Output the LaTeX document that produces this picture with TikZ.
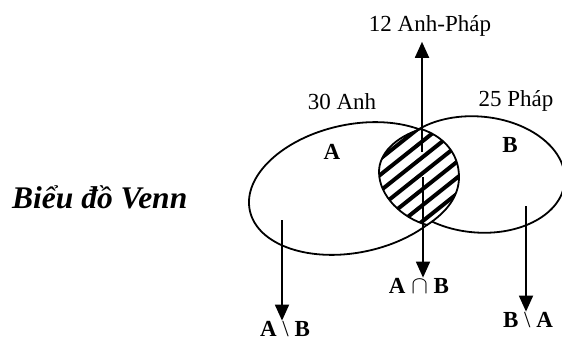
\documentclass[tikz,border=0pt]{standalone}
\usepackage{fontspec}
\setmainfont{Liberation Serif}
\usetikzlibrary{arrows.meta}
\begin{document}
\begin{tikzpicture}[x=1pt,y=-1pt,
  ell/.style={line width=1.8pt},
  arr/.style={line width=1.8pt,-{Triangle[width=14pt,length=16pt]}},
  hatch/.style={line width=4pt},
  lbl/.style={font=\fontsize{23}{26}\selectfont, inner sep=0pt},
  setlbl/.style={font=\fontsize{23}{26}\selectfont\bfseries, inner sep=0pt},
  ttl/.style={font=\fontsize{31.5}{36}\selectfont\bfseries\itshape, inner sep=0pt}]
\useasboundingbox (0,0) rectangle (562,342);

% title
\node[ttl, anchor=base west] (bi) at (12,208) {Biểu đồ Venn};

% ellipses
\draw[ell, rotate around={12:(353.5,188.5)}] (353.5,188.5) ellipse [x radius=106, y radius=64];
\draw[ell, rotate around={-5:(478,174.5)}] (478,174.5) ellipse [x radius=87, y radius=58];

% intersection (hatched)
\def\lens{(421,129) .. controls (396,137) and (379,153) .. (379,172)
  .. controls (379,196) and (402,218) .. (427,225)
  .. controls (447,212) and (459,196) .. (459,177)
  .. controls (459,153) and (443,136) .. (421,129) -- cycle}
\fill[white] \lens;
\begin{scope}
  \clip \lens;
  \foreach \k in {-7,...,7}
    \draw[hatch] (339,{176+16*\k+63.6}) -- (499,{176+16*\k-63.6});
\end{scope}
\draw[ell] \lens;

% labels
\node[lbl, anchor=base] (ap12) at (430,31.7) {12 Anh-Pháp};
\node[lbl, anchor=base] (a30) at (342,110) {30 Anh};
\node[lbl, anchor=base] (p25) at (516,107) {25 Pháp};
\node[setlbl, anchor=base] (lA) at (332,160) {A};
\node[setlbl, anchor=base] (lB) at (510,153) {B};
\node[setlbl, anchor=base] (capn) at (419,293) {A {\mdseries$\cap$} B};
\node[setlbl, anchor=base] (aminusb) at (285,336) {A {\mdseries\textbackslash} B};
\node[setlbl, anchor=base] (bminusa) at (528,327) {B {\mdseries\textbackslash} A};

% arrows
\coordinate (upstart) at (422,152);
\coordinate (midstart) at (423,177);
\coordinate (lstart) at (282,220);
\coordinate (rstart) at (526,206);
\draw[arr, shorten >=5pt] (upstart) -- (upstart |- ap12.south);
\draw[arr] (midstart) -- (midstart |- capn.north);
\draw[arr] (lstart) -- (lstart |- aminusb.north);
\draw[arr] (rstart) -- (rstart |- bminusa.north);
\end{tikzpicture}
\end{document}
